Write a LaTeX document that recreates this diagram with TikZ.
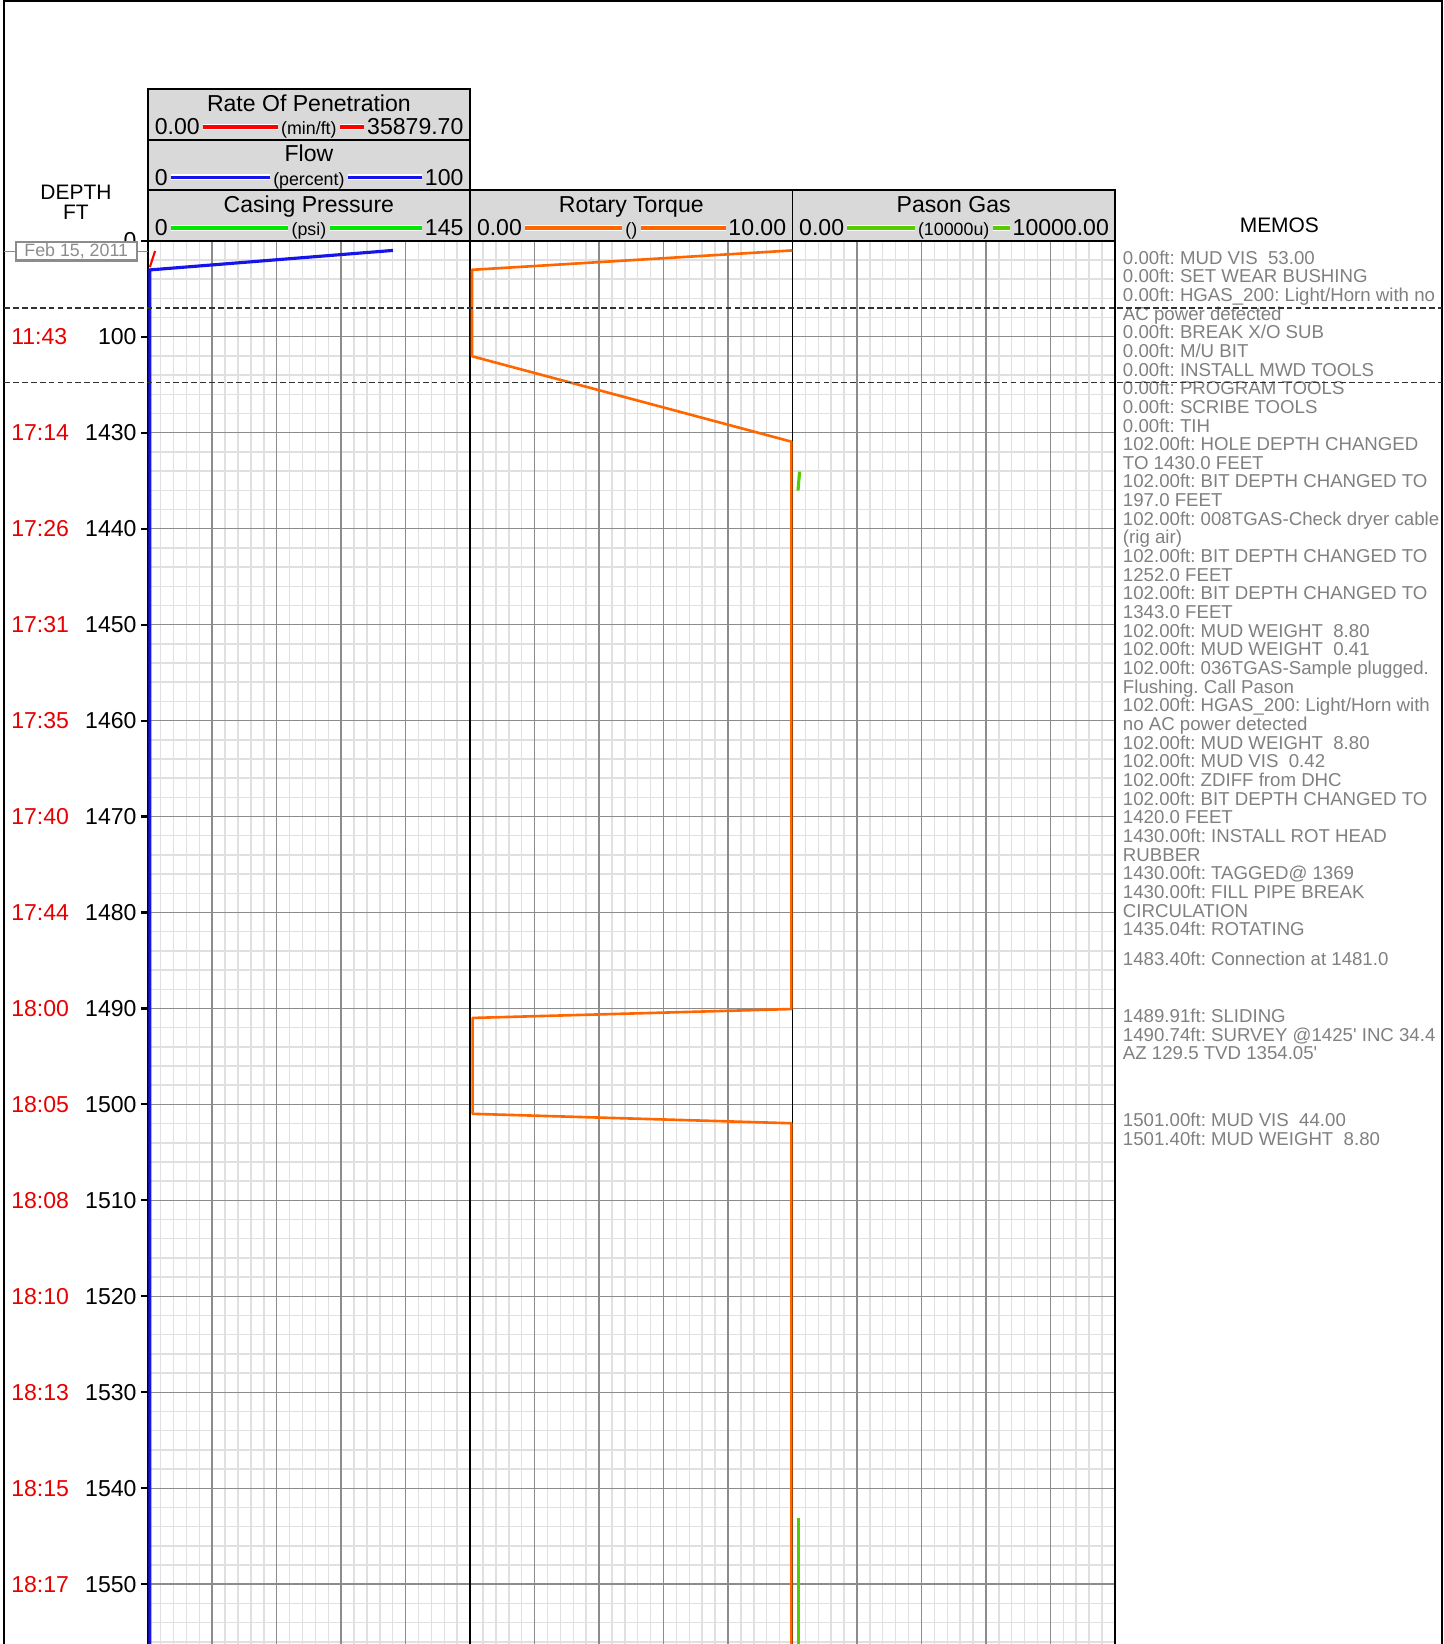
\documentclass[tikz,border=0pt]{standalone}
\usepackage{fontspec}
\setmainfont{Liberation Sans}
\frenchspacing

\definecolor{hdrgray}{RGB}{217,217,217}
\definecolor{minorgray}{RGB}{224,224,224}
\definecolor{majorgray}{RGB}{140,140,140}
\definecolor{memogray}{RGB}{128,128,128}
\definecolor{ropred}{RGB}{255,0,0}
\definecolor{flowblue}{RGB}{20,20,235}
\definecolor{casegreen}{RGB}{0,230,0}
\definecolor{torqorange}{RGB}{255,102,0}
\definecolor{gasgreen}{RGB}{85,204,0}
\definecolor{timered}{RGB}{230,0,0}
\definecolor{dashgray}{RGB}{50,50,50}

\tikzset{every picture/.style={line width=1.5pt}}

\begin{document}
\begin{tikzpicture}[x=1pt,y=1pt,yscale=-1,xscale=1,
  minorgrid/.style={draw=minorgray, line width=1.4pt},
  majorgrid/.style={draw=majorgray, line width=1.4pt},
  hdr/.style={fill=hdrgray, draw=black, line width=1.5pt},
  ttl/.style={anchor=base, inner sep=0pt, font=\fontsize{22}{22}\selectfont},
  val/.style={inner sep=2pt, font=\fontsize{22}{22}\selectfont},
  unit/.style={anchor=base, inner sep=2.5pt, font=\fontsize{17}{17}\selectfont},
  leg/.style={line width=3pt, preaction={draw=white, line width=5.5pt}},
  deplbl/.style={anchor=east, inner sep=0pt, font=\fontsize{22}{22}\selectfont},
  timelbl/.style={anchor=west, inner sep=0pt, text=timered, font=\fontsize{22}{22}\selectfont},
  tick/.style={line width=2pt},
  memo/.style={anchor=base west, inner sep=0pt, text=memogray, font=\fontsize{17.8}{17.8}\selectfont},
  datebox/.style={draw=majorgray, line width=2pt, fill=white, text=majorgray, minimum width=115.5pt, minimum height=17.5pt, inner sep=0pt, font=\fontsize{17}{17}\selectfont},
  depthsep/.style={draw=dashgray, line width=1.5pt, dash pattern={on 5.5pt off 3pt}}]
\useasboundingbox (0,0) rectangle (1378,1569);

%Shape: Grid minor
\foreach \i in {1,...,74} \draw[minorgrid] ({141+\i*12.3067},229.8) -- ({141+\i*12.3067},1569);
\foreach \j in {1,...,73} \draw[minorgrid] (141,{229.8+\j*18.316}) -- (1064,{229.8+\j*18.316});
%Shape: Grid major
\foreach \i in {1,...,14} \draw[majorgrid] ({141+\i*61.533},229.8) -- ({141+\i*61.533},1569);
\foreach \j in {1,...,14} \draw[majorgrid] (141,{229.8+\j*91.58}) -- (1064,{229.8+\j*91.58});
%Straight Lines: track borders
\foreach \x in {141,448.67,756.33,1064} \draw (\x,229.8) -- (\x,1569);

%Shape: Frame
\draw [line width=2pt] (4,1569) -- (4,1) -- (1376,1) -- (1376,1569);

%Shape: Header boxes
\draw [hdr] (141,85.2) rectangle (448.67,133.5);
\draw [hdr] (141,133.5) rectangle (448.67,181.5);
\draw [hdr] (141,181.5) rectangle (448.67,229.8);
\draw [hdr] (448.67,181.5) rectangle (756.33,229.8);
\draw [hdr] (756.33,181.5) rectangle (1064,229.8);

% Text Node
\node[ttl] (roptitle) at (294.8,106.7) {Rate Of Penetration};
\node[val, anchor=base west] (ropmin) at (145,128.8) {0.00};
\node[val, anchor=base east] (ropmax) at (445,128.8) {35879.70};
\node[unit] (ropunit) at (294.8,128.8) {(min/ft)};
\draw [leg, ropred] (ropmin.east) -- (ropmin.east -| ropunit.west);
\draw [leg, ropred] (ropmax.west) -- (ropmax.west -| ropunit.east);

% Text Node
\node[ttl] (flowtitle) at (294.8,154.5) {Flow};
\node[val, anchor=base west] (flowmin) at (145,176.8) {0};
\node[val, anchor=base east] (flowmax) at (445,176.8) {100};
\node[unit] (flowunit) at (294.8,176.8) {(percent)};
\draw [leg, flowblue] (flowmin.east) -- (flowmin.east -| flowunit.west);
\draw [leg, flowblue] (flowmax.west) -- (flowmax.west -| flowunit.east);

% Text Node
\node[ttl] (castitle) at (294.8,202.8) {Casing Pressure};
\node[val, anchor=base west] (casmin) at (145,225.1) {0};
\node[val, anchor=base east] (casmax) at (445,225.1) {145};
\node[unit] (casunit) at (294.8,225.1) {(psi)};
\draw [leg, casegreen] (casmin.east) -- (casmin.east -| casunit.west);
\draw [leg, casegreen] (casmax.west) -- (casmax.west -| casunit.east);

% Text Node
\node[ttl] (torqtitle) at (602.5,202.8) {Rotary Torque};
\node[val, anchor=base west] (torqmin) at (452.5,225.1) {0.00};
\node[val, anchor=base east] (torqmax) at (753,225.1) {10.00};
\node[unit] (torqunit) at (602.5,225.1) {()};
\draw [leg, torqorange] (torqmin.east) -- (torqmin.east -| torqunit.west);
\draw [leg, torqorange] (torqmax.west) -- (torqmax.west -| torqunit.east);

% Text Node
\node[ttl] (gastitle) at (910.2,202.8) {Pason Gas};
\node[val, anchor=base west] (gasmin) at (760,225.1) {0.00};
\node[val, anchor=base east] (gasmax) at (1061,225.1) {10000.00};
\node[unit] (gasunit) at (910.2,225.1) {(10000u)};
\draw [leg, gasgreen] (gasmin.east) -- (gasmin.east -| gasunit.west);
\draw [leg, gasgreen] (gasmax.west) -- (gasmax.west -| gasunit.east);

% Text Node
\node[ttl, font=\fontsize{20}{20}\selectfont] (depthhd) at (72.5,190.2) {DEPTH};
\node[ttl, font=\fontsize{20}{20}\selectfont] (fthd) at (72.5,209.6) {FT};
\node[ttl, font=\fontsize{20}{20}\selectfont] (memohd) at (1221,222) {MEMOS};

%Curve Lines: data
\draw [ropred, line width=2pt] (143,255) -- (148,239.5);
\draw [flowblue, line width=3pt] (143,1569) -- (143,257.6) -- (375,239);
\draw [torqorange, line width=2.5pt, line join=bevel] (756.3,239) -- (450.5,257.5) -- (450.5,340) -- (755.3,421.5) -- (755.3,963) -- (451,971.5) -- (451,1063) -- (755.3,1072) -- (755.3,1569);
\draw [gasgreen, line width=3pt] (763.1,450.1) -- (761.6,468.2);
\draw [gasgreen, line width=3pt] (762.2,1448.5) -- (762.2,1569);

% Text Node: depth and time
\node[deplbl] (dep0) at (131,229.8) {0};
\draw [tick] (135,229.8) -- (141,229.8);
\foreach \tm/\dp [count=\k] in {11:43/100,17:14/1430,17:26/1440,17:31/1450,17:35/1460,17:40/1470,17:44/1480,18:00/1490,18:05/1500,18:08/1510,18:10/1520,18:13/1530,18:15/1540,18:17/1550}{
  \node[timelbl] (time\k) at (10,{229.8+\k*91.58}) {\tm};
  \node[deplbl] (dep\k) at (131,{229.8+\k*91.58}) {\dp};
  \draw [tick] (135,{229.8+\k*91.58}) -- (141,{229.8+\k*91.58});
}

% Text Node: date
\node[datebox] (date) at (72.75,239.9) {Feb 15, 2011};
\draw [majorgray] (4,239.9) -- (date.west);
\draw [majorgray] (date.east) -- (141,239.9);

% Text Node: memos
\foreach \t [count=\k from 0] in {
  {0.00ft: MUD VIS~~53.00},
  {0.00ft: SET WEAR BUSHING},
  {0.00ft: HGAS\_200: Light/Horn with no},
  {AC power detected},
  {0.00ft: BREAK X/O SUB},
  {0.00ft: M/U BIT},
  {0.00ft: INSTALL MWD TOOLS},
  {0.00ft: PROGRAM TOOLS},
  {0.00ft: SCRIBE TOOLS},
  {0.00ft: TIH},
  {102.00ft: HOLE DEPTH CHANGED},
  {TO 1430.0 FEET},
  {102.00ft: BIT DEPTH CHANGED TO},
  {197.0 FEET},
  {102.00ft: 008TGAS-Check dryer cable},
  {(rig air)},
  {102.00ft: BIT DEPTH CHANGED TO},
  {1252.0 FEET},
  {102.00ft: BIT DEPTH CHANGED TO},
  {1343.0 FEET},
  {102.00ft: MUD WEIGHT~~8.80},
  {102.00ft: MUD WEIGHT~~0.41},
  {102.00ft: 036TGAS-Sample plugged.},
  {Flushing. Call Pason},
  {102.00ft: HGAS\_200: Light/Horn with},
  {no AC power detected},
  {102.00ft: MUD WEIGHT~~8.80},
  {102.00ft: MUD VIS~~0.42},
  {102.00ft: ZDIFF from DHC},
  {102.00ft: BIT DEPTH CHANGED TO},
  {1420.0 FEET},
  {1430.00ft: INSTALL ROT HEAD},
  {RUBBER},
  {1430.00ft: TAGGED@ 1369},
  {1430.00ft: FILL PIPE BREAK},
  {CIRCULATION},
  {1435.04ft: ROTATING}}
  \node[memo] (memo\k) at (1071,{252+\k*17.81}) {\t};
\node[memo] (memo37) at (1071,921.8) {1483.40ft: Connection at 1481.0};
\node[memo] (memo38) at (1071,975.9) {1489.91ft: SLIDING};
\node[memo] (memo39) at (1071,993.7) {1490.74ft: SURVEY @1425\textquotesingle{} INC 34.4};
\node[memo] (memo40) at (1071,1011.5) {AZ 129.5 TVD 1354.05\textquotesingle};
\node[memo] (memo41) at (1071,1075.2) {1501.00ft: MUD VIS~~44.00};
\node[memo] (memo42) at (1071,1093) {1501.40ft: MUD WEIGHT~~8.80};

%Straight Lines: dashed depth breaks
\draw [depthsep] (4,294) -- (1376,294);
\draw [depthsep] (4,365) -- (1376,365);

\end{tikzpicture}
\end{document}
